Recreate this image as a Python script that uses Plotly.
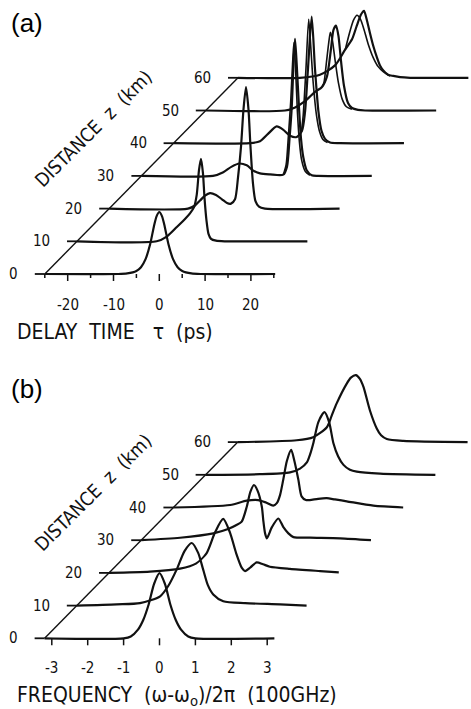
import plotly.graph_objects as go

# ---------------- data ----------------
Z_KM = [0, 10, 20, 30, 40, 50, 60]

# panel (a): delay time tau (ps) and intensity (arb.) for every distance
A_TAU_0 = [-25, -9, -7, -5, -4, -3, -2, -1.2, -0.6, 0, 0.6, 1.2, 2, 3, 4, 5, 7, 9, 25.3]
A_P_0 = [0, 0, 0.01, 0.05, 0.11, 0.24, 0.48, 0.76, 0.93, 1.0, 0.93, 0.76, 0.48, 0.24, 0.11, 0.05, 0.01, 0, 0]
A_TAU_10 = [-25, -7.6, -5.4, -3.2, -1.42, -0.33, 0.55, 1.14, 1.64, 2.07, 2.5, 2.84, 3.28, 3.71, 4.26, 5.35, 7.3, 25.3]
A_P_10 = [0, 0, 0.076, 0.23, 0.36, 0.45, 0.55, 0.75, 1.15, 1.33, 1.1, 0.7, 0.33, 0.12, 0.04, 0.01, 0, 0]
A_TAU_20 = [-25, -7.8, -6.27, -5.17, -4.08, -2.99, -1.68, -0.37, 0.72, 1.59, 2.47, 3.12, 3.78, 4.32, 4.87, 5.41, 5.85, 6.4, 6.94, 7.7, 9.0, 25.3]
A_P_20 = [0, 0, 0.05, 0.13, 0.21, 0.25, 0.22, 0.15, 0.09, 0.08, 0.15, 0.5, 1.0, 1.6, 1.96, 1.6, 1.0, 0.4, 0.12, 0.03, 0, 0]
A_TAU_30 = [-25, -9.37, -7.12, -5.28, -3.62, -2.0, -0.57, 0.9, 3.08, 5.98, 6.79, 7.34, 7.82, 8.21, 8.54, 8.91, 9.41, 9.85, 10.35, 11.09, 12.18, 13.56, 25.3]
A_P_30 = [0, 0, 0.06, 0.15, 0.2, 0.17, 0.085, 0.04, 0.025, 0.02, 0.15, 0.6, 1.1, 1.8, 2.21, 1.8, 1.1, 0.6, 0.3, 0.09, 0.01, 0, 0]
A_TAU_40 = [-25, -8.32, -6.14, -4.39, -2.49, -1.11, 0.41, 1.88, 3.03, 3.69, 4.34, 5.15, 5.87, 6.64, 7.29, 8.06, 9.15, 11.3, 25.3]
A_P_40 = [0, 0, 0.03, 0.15, 0.27, 0.22, 0.12, 0.1, 0.2, 0.5, 1.2, 2.04, 1.2, 0.5, 0.2, 0.07, 0.01, 0, 0]
A_TAU_50 = [-25, -7.7, -5.5, -3.34, -1.16, 0.37, 1.46, 2.34, 2.88, 3.43, 3.97, 4.52, 5.17, 6.05, 6.92, 8.23, 9.76, 25.3]
A_P_50 = [0, 0, 0.05, 0.15, 0.3, 0.38, 0.55, 1.0, 1.3, 1.37, 1.2, 0.8, 0.4, 0.12, 0.04, 0.01, 0, 0]
A_TAU_60 = [-25, -11.5, -7.1, -3.82, -1.64, -0.11, 0.98, 1.86, 2.51, 3.17, 3.82, 4.59, 5.28, 6.0, 6.72, 7.75, 8.9, 10.4, 12.6, 25.3]
A_P_60 = [0, 0, 0.05, 0.2, 0.45, 0.62, 0.85, 1.02, 1.08, 0.92, 0.72, 0.5, 0.34, 0.2, 0.12, 0.05, 0.03, 0.01, 0, 0]

# second (nearly coincident) curve drawn around the peaks of panel (a)
A2_TAU_30 = [6.0, 6.6, 7.1, 7.6, 8.0, 8.3, 8.65, 9.05, 9.5, 10.0, 10.8, 11.8]
A2_P_30 = [0.02, 0.18, 0.65, 1.2, 1.8, 2.15, 1.75, 1.05, 0.55, 0.25, 0.07, 0.01]
A2_TAU_40 = [2.9, 3.3, 3.9, 4.5, 5.0, 5.45, 6.2, 6.9, 7.6, 8.6]
A2_P_40 = [0.18, 0.45, 1.2, 2.0, 1.5, 1.0, 0.45, 0.18, 0.06, 0.01]
A2_TAU_50 = [0.4, 0.8, 1.3, 1.85, 2.2, 2.6, 3.25, 3.95, 4.8, 5.7, 6.9]
A2_P_50 = [0.38, 0.45, 0.75, 1.1, 1.26, 1.15, 0.8, 0.45, 0.18, 0.06, 0.02]
A2_TAU_60 = [-1.6, -0.55, 0.22, 0.98, 1.7, 2.51, 3.4, 4.5, 5.6, 6.7, 8.2]
A2_P_60 = [0.45, 0.75, 0.93, 1.01, 0.95, 0.78, 0.55, 0.33, 0.18, 0.1, 0.03]

# panel (b): frequency (omega-omega0)/2pi (100 GHz) and spectral intensity (arb.)
B_F_0 = [-3.2, -1.0, -0.8, -0.6, -0.45, -0.3, -0.15, 0, 0.15, 0.3, 0.45, 0.6, 0.8, 1.0, 3.2]
B_S_0 = [0, 0, 0.03, 0.14, 0.3, 0.55, 0.88, 1.05, 0.88, 0.55, 0.3, 0.14, 0.03, 0, 0]
B_F_10 = [-3.2, -2.09, -1.44, -0.88, -0.65, -0.42, -0.2, 0.0, 0.18, 0.32, 0.45, 0.6, 0.88, 1.49, 2.46, 3.2]
B_S_10 = [0, 0.02, 0.04, 0.15, 0.32, 0.58, 0.88, 1.01, 0.85, 0.58, 0.33, 0.18, 0.07, 0.04, 0.02, 0]
B_F_20 = [-3.2, -2.06, -1.22, -0.78, -0.48, -0.25, -0.02, 0.17, 0.34, 0.5, 0.59, 0.74, 0.91, 1.09, 1.28, 1.84, 2.68, 3.2]
B_S_20 = [0, 0.02, 0.07, 0.15, 0.32, 0.65, 0.87, 0.65, 0.32, 0.08, 0.03, 0.09, 0.17, 0.14, 0.1, 0.065, 0.03, 0.01]
B_F_30 = [-3.2, -2.12, -1.19, -0.78, -0.56, -0.4, -0.26, -0.16, -0.06, 0.04, 0.16, 0.2, 0.25, 0.3, 0.44, 0.62, 0.76, 0.9, 1.04, 1.5, 2.34, 3.2]
B_S_30 = [0, 0.04, 0.11, 0.18, 0.24, 0.3, 0.54, 0.78, 0.89, 0.8, 0.54, 0.32, 0.11, 0.03, 0.21, 0.35, 0.21, 0.11, 0.05, 0.04, 0.03, 0]
B_F_40 = [-3.2, -1.62, -1.16, -0.84, -0.62, -0.42, -0.32, -0.23, -0.14, -0.04, 0.08, 0.17, 0.28, 0.37, 0.49, 0.6, 0.83, 1.07, 1.3, 1.63, 2.37, 3.2]
B_S_40 = [0, 0.04, 0.11, 0.12, 0.08, 0.03, 0.07, 0.2, 0.45, 0.75, 0.93, 0.75, 0.45, 0.18, 0.12, 0.12, 0.14, 0.15, 0.13, 0.1, 0.03, 0]
B_F_50 = [-3.2, -1.69, -0.85, -0.57, -0.38, -0.29, -0.2, -0.06, 0.11, 0.24, 0.36, 0.49, 0.64, 0.82, 1.01, 1.66, 3.2]
B_S_50 = [0, 0.01, 0.04, 0.1, 0.2, 0.33, 0.51, 0.85, 1.01, 0.85, 0.51, 0.3, 0.16, 0.08, 0.05, 0.02, 0]
B_F_60 = [-3.2, -1.56, -1.1, -0.72, -0.59, -0.45, -0.17, -0.05, 0.09, 0.2, 0.3, 0.48, 0.67, 0.79, 0.95, 1.41, 3.2]
B_S_60 = [0, 0.03, 0.08, 0.24, 0.42, 0.62, 0.94, 1.04, 1.08, 1.02, 0.89, 0.51, 0.22, 0.11, 0.05, 0.02, 0]

A_TICKS = [-20, -10, 0, 10, 20]
A_MINOR = [-25, -15, -5, 5, 15, 25]
B_TICKS = [-3, -2, -1, 0, 1, 2, 3]

A_TRACES = [(A_TAU_0, A_P_0), (A_TAU_10, A_P_10), (A_TAU_20, A_P_20), (A_TAU_30, A_P_30),
            (A_TAU_40, A_P_40), (A_TAU_50, A_P_50), (A_TAU_60, A_P_60)]
A_TWINS = {3: (A2_TAU_30, A2_P_30), 4: (A2_TAU_40, A2_P_40), 5: (A2_TAU_50, A2_P_50), 6: (A2_TAU_60, A2_P_60)}
B_TRACES = [(B_F_0, B_S_0), (B_F_10, B_S_10), (B_F_20, B_S_20), (B_F_30, B_S_30),
            (B_F_40, B_S_40), (B_F_50, B_S_50), (B_F_60, B_S_60)]

# ---------------- geometry of the pseudo-3D stacking ----------------
W, H = 471, 709
PXA = 4.58      # px per ps
PXB = 35.9      # px per 100 GHz
PXY = 62.0      # px per intensity unit
STEP_X_PX = 32.2
STEP_Y_PX = 32.7
DXA = STEP_X_PX / PXA
DXB = STEP_X_PX / PXB
DY = STEP_Y_PX / PXY
INK = "#111111"
FONT = "DejaVu Sans Condensed, DejaVu Sans, sans-serif"
NB = "\u00a0"

fig = go.Figure()


def panel(traces, twins, dx, xstart, xa, ya, ticks, minor, pxx, xtitle, plabel, plabel_y, tshift):
    n = len(Z_KM)
    xr = "x" if xa == "x" else "x2"
    yr = "y" if ya == "y" else "y2"
    # stacked traces
    for k, (xs, ys) in enumerate(traces):
        fig.add_trace(go.Scatter(
            x=[v + k * dx for v in xs], y=[v + k * DY for v in ys],
            mode="lines", line=dict(color=INK, width=2.2, shape="spline", smoothing=0.7),
            xaxis=xa, yaxis=ya, hoverinfo="skip", showlegend=False))
    for k, (xs, ys) in twins.items():
        fig.add_trace(go.Scatter(
            x=[v + k * dx for v in xs], y=[v + k * DY for v in ys],
            mode="lines", line=dict(color=INK, width=1.6, shape="spline", smoothing=0.7),
            xaxis=xa, yaxis=ya, hoverinfo="skip", showlegend=False))
    # distance axis (diagonal) and its ticks
    fig.add_trace(go.Scatter(
        x=[xstart, xstart + (n - 1) * dx], y=[0, (n - 1) * DY], mode="lines",
        line=dict(color=INK, width=1.4), xaxis=xa, yaxis=ya, hoverinfo="skip", showlegend=False))
    tx, ty = [], []
    for k in range(n):
        tx += [xstart + k * dx - 10 / pxx, xstart + k * dx, None]
        ty += [k * DY, k * DY, None]
    fig.add_trace(go.Scatter(x=tx, y=ty, mode="lines", line=dict(color=INK, width=1.8),
                             xaxis=xa, yaxis=ya, hoverinfo="skip", showlegend=False))
    # bottom axis ticks
    bx, by = [], []
    for t in ticks:
        bx += [t, t, None]
        by += [0, -7 / PXY, None]
    for t in minor:
        bx += [t, t, None]
        by += [0, -4 / PXY, None]
    fig.add_trace(go.Scatter(x=bx, y=by, mode="lines", line=dict(color=INK, width=1.5),
                             xaxis=xa, yaxis=ya, hoverinfo="skip", showlegend=False))
    for t in ticks:
        fig.add_annotation(x=t, y=0, xref=xr, yref=yr, text=str(t), showarrow=False,
                           yshift=tshift, font=dict(family=FONT, size=15, color=INK))
    for k, z in enumerate(Z_KM):
        fig.add_annotation(x=xstart + k * dx, y=k * DY, xref=xr, yref=yr, text=str(z),
                           showarrow=False, xanchor="right", xshift=-25,
                           font=dict(family=FONT, size=15, color=INK))
    # axis titles
    fig.add_annotation(x=xstart + 3 * dx, y=3 * DY, xref=xr, yref=yr,
                       text="DISTANCE" + NB * 2 + "z" + NB * 2 + "(km)",
                       showarrow=False, textangle=-45, xshift=-48, yshift=48,
                       font=dict(family=FONT, size=19, color=INK))
    fig.add_annotation(x=xstart, y=0, xref=xr, yref=yr, text=xtitle, showarrow=False,
                       xanchor="left", xshift=-30, yshift=-58,
                       font=dict(family=FONT, size=21, color=INK))
    fig.add_annotation(x=0.02, y=1 - plabel_y / H, xref="paper", yref="paper", text=plabel,
                       showarrow=False, xanchor="left", yanchor="middle",
                       font=dict(family="Liberation Sans, Arial, sans-serif", size=26, color="#000"))


panel(A_TRACES, A_TWINS, DXA, -25, "x", "y", A_TICKS, A_MINOR, PXA,
      "DELAY" + NB * 2 + "TIME" + NB * 3 + "\u03c4" + NB * 2 + "(ps)", "(a)", 23, -31)
panel(B_TRACES, {}, DXB, -3.2, "x2", "y2", B_TICKS, [], PXB,
      "FREQUENCY" + NB * 2 + "(\u03c9-\u03c9<sub>o</sub>)/2\u03c0" + NB * 2 + "(100GHz)", "(b)", 389, -30)

# axes mapped one-to-one to picture pixels
fig.update_layout(
    width=W, height=H, margin=dict(l=0, r=0, t=0, b=0),
    paper_bgcolor="white", plot_bgcolor="white", showlegend=False,
    xaxis=dict(domain=[0, 1], range=[-159.3 / PXA, (W - 159.3) / PXA], visible=False),
    yaxis=dict(domain=[1 - 350 / H, 1], range=[(274 - 350) / PXY, 274 / PXY], visible=False),
    xaxis2=dict(domain=[0, 1], range=[-159.5 / PXB, (W - 159.5) / PXB], visible=False),
    yaxis2=dict(domain=[0, (H - 355) / H], range=[(638.3 - H) / PXY, (638.3 - 355) / PXY], visible=False),
)

fig.write_html("out.html", config={"displayModeBar": False},
               post_script="document.body.style.margin='0';document.body.style.overflow='hidden';")
